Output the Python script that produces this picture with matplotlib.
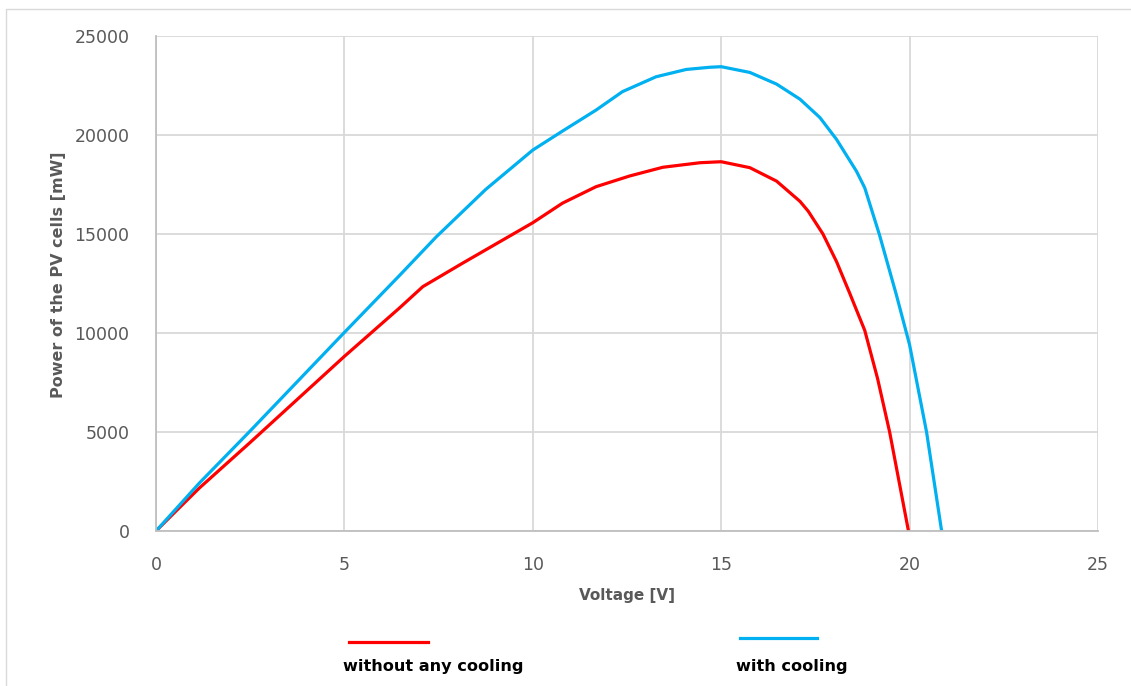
import matplotlib
matplotlib.use("Agg")
import matplotlib.pyplot as plt
from matplotlib.lines import Line2D
from matplotlib.patches import Rectangle

# Data
v_cool = [0, 0.5, 1.15, 2.48, 5.0, 6.46, 7.44, 8.75, 10.0, 10.79, 11.68, 12.38, 13.27,
          14.07, 14.69, 15.0, 15.76, 16.47, 17.09, 17.62, 18.06, 18.59, 18.81, 19.2,
          19.65, 20.0, 20.45, 20.85]
p_cool = [0, 1050, 2420, 5015, 10030, 12900, 14860, 17250, 19240, 20200, 21260, 22190, 22940,
          23310, 23420, 23450, 23160, 22570, 21810, 20880, 19780, 18170, 17330, 14960,
          11920, 9400, 5000, 0]

v_nocool = [0, 0.5, 1.15, 2.48, 5.0, 6.46, 7.08, 8.14, 10.0, 10.79, 11.68, 12.57, 13.45,
            14.44, 15.0, 15.76, 16.47, 17.09, 17.31, 17.7, 18.06, 18.41, 18.81, 19.15,
            19.47, 19.97]
p_nocool = [0, 950, 2170, 4440, 8820, 11260, 12340, 13530, 15570, 16560, 17390, 17930, 18370,
            18600, 18650, 18350, 17670, 16650, 16150, 15000, 13610, 12010, 10130, 7700,
            5000, 0]

x_ticks = [0, 5, 10, 15, 20, 25]
y_ticks = [0, 5000, 10000, 15000, 20000, 25000]

W, H = 1131, 686
fig = plt.figure(figsize=(W / 100, H / 100), dpi=100)
fig.patch.set_facecolor("white")

ax = fig.add_axes([156 / W, 1 - 531 / H, (1098 - 156) / W, (531 - 36) / H])
ax.plot(v_nocool, p_nocool, color="#FF0000", lw=2.3, solid_joinstyle="round")
ax.plot(v_cool, p_cool, color="#00B0F0", lw=2.3, solid_joinstyle="round")

ax.set_xlim(0, 25)
ax.set_ylim(0, 25000)
ax.set_xticks(x_ticks)
ax.set_yticks(y_ticks)
ax.set_xticklabels([str(t) for t in x_ticks])
ax.set_yticklabels([str(t) for t in y_ticks])
ax.tick_params(axis="both", length=0, labelsize=12.5, colors="#595959")
ax.tick_params(axis="x", pad=18)
ax.tick_params(axis="y", pad=19)
ax.grid(True, color="#D9D9D9", lw=1.3)
ax.set_axisbelow(True)
for s in ["top", "right"]:
    ax.spines[s].set_visible(False)
for s in ["left", "bottom"]:
    ax.spines[s].set_color("#BFBFBF")
    ax.spines[s].set_linewidth(1.3)

ax.set_xlabel("Voltage [V]", fontsize=11, fontweight="bold", color="#595959", labelpad=10)
ax.set_ylabel("Power of the PV cells [mW]", fontsize=11.5, fontweight="bold", color="#595959")
ax.yaxis.set_label_coords(-0.0955, 0.517)

# Frame around the chart area
fig.add_artist(Rectangle((6 / W, -0.1), 1.2, 1 - 9 / H + 0.1, transform=fig.transFigure,
                         fill=False, edgecolor="#D9D9D9", lw=1.0))

# Legend drawn manually
fig.add_artist(Line2D([349 / W, 428 / W], [1 - 642 / H, 1 - 642 / H], color="#FF0000", lw=2.3))
fig.add_artist(Line2D([740 / W, 817 / W], [1 - 638 / H, 1 - 638 / H], color="#00B0F0", lw=2.3))
fig.text(343 / W, 1 - 666 / H, "without any cooling", fontsize=11.6, fontweight="bold",
         color="black", va="center", ha="left")
fig.text(736 / W, 1 - 666 / H, "with cooling", fontsize=11.6, fontweight="bold",
         color="black", va="center", ha="left")

fig.savefig("out.png", dpi=100)
